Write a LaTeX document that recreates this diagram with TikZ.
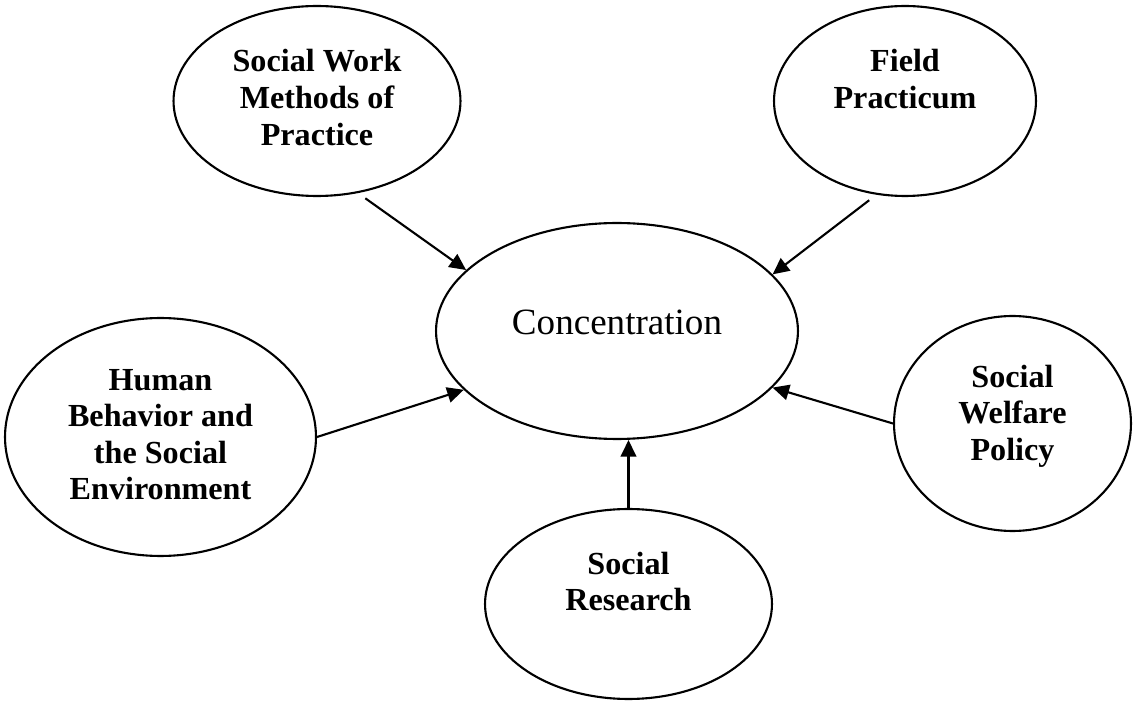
\documentclass[tikz,border=0pt]{standalone}
\usepackage{fontspec}
\setmainfont{Liberation Serif}
\usetikzlibrary{shapes.geometric,arrows.meta}

\begin{document}
\begin{tikzpicture}[x=0.02cm,y=-0.02cm,line width=1.2pt,
                    >={Triangle[length=0.33cm,width=0.31cm]},
                    area/.style={draw,ellipse,inner sep=0pt},
                    areatext/.style={align=center,inner sep=0pt,
                      font=\bfseries\fontsize{18.3}{20.8}\selectfont}]
\useasboundingbox (0,0) rectangle (1133,702);
% the five course areas around the concentration
\node[area,minimum width=7.24cm,minimum height=4.32cm] (conc) at (617,331) {};
\node[area,minimum width=5.74cm,minimum height=3.80cm] (swm) at (317,101) {};
\node[area,minimum width=5.24cm,minimum height=3.80cm] (fp) at (905,101) {};
\node[area,minimum width=6.22cm,minimum height=4.76cm] (hbse) at (160.5,437) {};
\node[area,minimum width=4.74cm,minimum height=4.30cm] (swp) at (1012.5,423.5) {};
\node[area,minimum width=5.74cm,minimum height=3.80cm] (sr) at (628.5,604) {};
% texts
\node[inner sep=0pt,font=\fontsize{21.1}{24}\selectfont] (conc-t) at (617,322.5) {Concentration};
\node[areatext] (swm-t) at (317,97.5) {Social Work\\Methods of\\Practice};
\node[areatext] (fp-t) at (905,79) {Field\\Practicum};
\node[areatext] (hbse-t) at (160.5,434.5) {Human\\Behavior and\\the Social\\Environment};
\node[areatext] (swp-t) at (1012.5,416) {Social\\Welfare\\Policy};
\node[areatext] (sr-t) at (628.5,581.5) {Social\\Research};
% arrows into the concentration
\draw[->,shorten <=0.18cm] (swm.-66.8) -- (conc.158.9);
\draw[->,shorten <=0.18cm] (fp.-107.1) -- (conc.20.9);
\draw[->] (hbse.east) -- (conc.-159.6);
\draw[->] (swp.west) -- (conc.-20.4);
\draw[->] (sr.north) -- (sr.north |- conc.south);
\end{tikzpicture}
\end{document}
